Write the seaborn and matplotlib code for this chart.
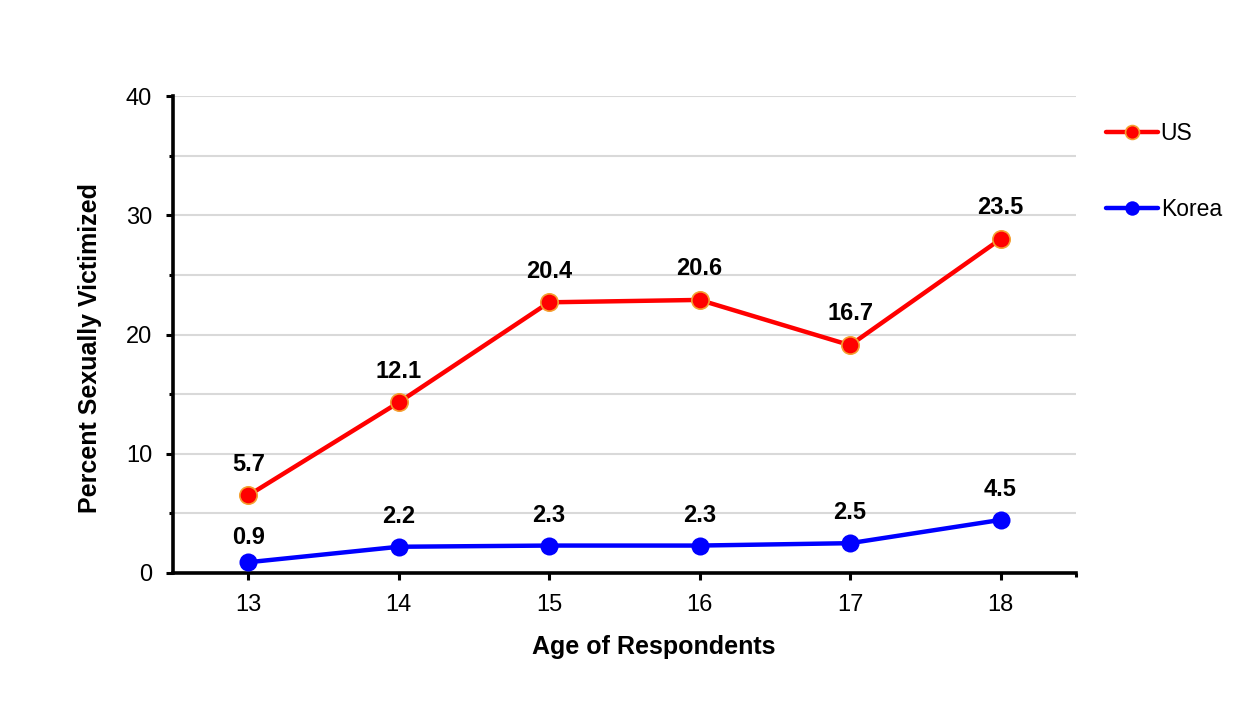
import matplotlib
matplotlib.use("Agg")
import matplotlib.pyplot as plt
import seaborn as sns
import pandas as pd
from matplotlib.ticker import MultipleLocator, FixedLocator

ages = [13, 14, 15, 16, 17, 18]
us_values = [6.5, 14.3, 22.7, 22.9, 19.1, 28.0]
korea_values = [0.9, 2.2, 2.3, 2.3, 2.5, 4.45]
us_labels = ["5.7", "12.1", "20.4", "20.6", "16.7", "23.5"]
korea_labels = ["0.9", "2.2", "2.3", "2.3", "2.5", "4.5"]
series_names = ["US", "Korea"]
y_ticks = [0, 10, 20, 30, 40]

df = pd.DataFrame({
    "age": ages * 2,
    "value": us_values + korea_values,
    "country": [series_names[0]] * len(ages) + [series_names[1]] * len(ages),
})

sns.set_theme(style="white")
plt.rcParams["font.family"] = ["Liberation Sans", "DejaVu Sans"]
plt.rcParams["text.color"] = "black"
plt.rcParams["axes.labelcolor"] = "black"
plt.rcParams["xtick.color"] = "black"
plt.rcParams["ytick.color"] = "black"

fig = plt.figure(figsize=(12.48, 7.06), dpi=100)
ax = fig.add_axes([0.1386, 0.1884, 0.862 - 0.1386, 0.864 - 0.1884])

for y in range(5, 41, 5):
    ax.axhline(y, color="#d9d9d9", lw=1.5, zorder=0)

sns.lineplot(data=df[df.country == "US"], x="age", y="value", ax=ax,
             color="#ff0000", lw=3.2, marker="o", markersize=12.5,
             markerfacecolor="#ff0000", markeredgecolor="#f5a030",
             markeredgewidth=1.2, label="US", zorder=3)
sns.lineplot(data=df[df.country == "Korea"], x="age", y="value", ax=ax,
             color="#0000ff", lw=3.2, marker="o", markersize=13,
             markerfacecolor="#0000ff", markeredgecolor="#0000ff",
             markeredgewidth=0, label="Korea", zorder=3)

for x, y, t in zip(ages, us_values, us_labels):
    ax.annotate(t, (x, y), xytext=(0, 22.5), textcoords="offset points",
                ha="center", va="center", fontsize=17, fontweight="bold")
for i, (x, y, t) in enumerate(zip(ages, korea_values, korea_labels)):
    off = 18 if i == 0 else 22
    ax.annotate(t, (x, y), xytext=(0, off), textcoords="offset points",
                ha="center", va="center", fontsize=17, fontweight="bold")

ax.set_xlim(12.5, 18.5)
ax.set_ylim(0, 40)
ax.set_xticks(ages)
ax.set_xticklabels([str(a) for a in ages])
ax.xaxis.set_minor_locator(FixedLocator([18.5]))
ax.set_yticks(y_ticks)
ax.yaxis.set_minor_locator(MultipleLocator(5))

for s in ["top", "right"]:
    ax.spines[s].set_visible(False)
for s in ["left", "bottom"]:
    ax.spines[s].set_color("black")
    ax.spines[s].set_linewidth(2.6)

ax.tick_params(axis="both", which="major", direction="out", length=5,
               width=2.2, color="black", labelsize=17, pad=10, left=True, bottom=True)
ax.tick_params(axis="both", which="minor", direction="out", length=3,
               width=2.2, color="black", left=True, bottom=True)

ax.set_xlabel("Age of Respondents", fontsize=18, fontweight="bold")
ax.set_ylabel("Percent Sexually Victimized", fontsize=18, fontweight="bold")
ax.xaxis.label.set_va("center")
ax.xaxis.label.set_ha("center")
ax.xaxis.set_label_coords(0.533, -0.155)
ax.yaxis.label.set_va("center")
ax.yaxis.label.set_ha("center")
ax.yaxis.set_label_coords(-0.092, 0.4727)

leg = ax.legend(loc="upper left", bbox_to_anchor=(0.8694, 0.856),
                bbox_transform=fig.transFigure, frameon=False, fontsize=16.5,
                handlelength=2.3, handletextpad=0.1, labelspacing=2.3,
                markerscale=0.8)

fig.savefig("out.png", dpi=100)
